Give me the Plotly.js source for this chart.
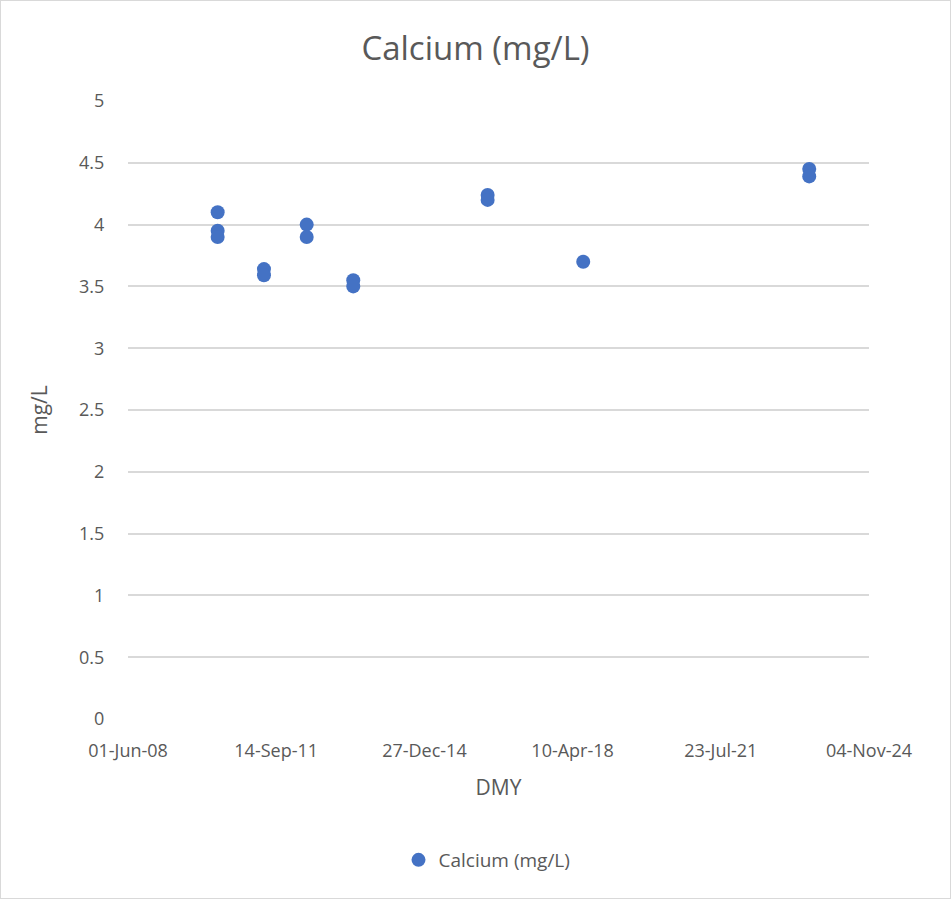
<!DOCTYPE html>
<html>
<head>
<meta charset="utf-8">
<script src="https://cdn.plot.ly/plotly-3.0.1.min.js"></script>
<style>
html,body{margin:0;padding:0;background:#fff;}
#wrap{position:relative;width:951px;height:899px;}
#chart{width:951px;height:899px;}
#frame{position:absolute;left:0;top:0;width:949px;height:897px;border:1px solid #d9d9d9;pointer-events:none;}
</style>
</head>
<body>
<div id="wrap"><div id="chart"></div><div id="frame"></div></div>
<script>
const dates = [
  "2010-05-28","2010-05-28","2010-05-28",
  "2011-06-07","2011-06-07",
  "2012-05-18","2012-05-18",
  "2013-05-30","2013-05-30",
  "2016-05-22","2016-05-22",
  "2018-07-05",
  "2023-07-09","2023-07-09"
];
const calcium = [4.1, 3.95, 3.9, 3.64, 3.59, 4.0, 3.9, 3.55, 3.5, 4.24, 4.2, 3.7, 4.45, 4.39];
const seriesName = "Calcium (mg/L)";
const chartTitle = "Calcium (mg/L)";
const xTitle = "DMY";
const yTitle = "mg/L";
const xStart = "2008-06-01";
const xEnd = "2024-11-04";
const yTicks = [0, 0.5, 1, 1.5, 2, 2.5, 3, 3.5, 4, 4.5, 5];

const fontFam = "Open Sans, Liberation Sans, sans-serif";
const grey = "#595959";

Plotly.newPlot("chart", [{
  type: "scatter",
  mode: "markers",
  x: dates,
  y: calcium,
  name: seriesName,
  marker: {color: "#4472C4", size: 14},
  showlegend: true
}], {
  width: 951, height: 899,
  margin: {l: 128, r: 82, t: 101, b: 180},
  paper_bgcolor: "#fff", plot_bgcolor: "#fff",
  font: {family: fontFam, color: grey},
  title: {text: chartTitle, font: {size: 33, color: grey, family: fontFam}, x: 0.5, xanchor: "center", y: 1 - 48/899, yanchor: "middle"},
  xaxis: {
    type: "date",
    range: [xStart, xEnd],
    tick0: xStart,
    dtick: 1200 * 86400000,
    tickformat: "%d-%b-%y",
    showgrid: false,
    zeroline: false,
    showline: false,
    ticks: "outside",
    ticklen: 15,
    tickcolor: "rgba(0,0,0,0)",
    tickfont: {size: 18, color: grey},
    title: {text: xTitle, font: {size: 21, color: grey}, standoff: 19}
  },
  yaxis: {
    range: [0, 5],
    tickvals: yTicks,
    ticktext: yTicks.map(String),
    showgrid: true,
    gridcolor: "#d9d9d9",
    gridwidth: 1.5,
    zeroline: false,
    showline: false,
    ticks: "outside",
    ticklen: 19,
    tickcolor: "rgba(0,0,0,0)",
    tickfont: {size: 18, color: grey},
    title: {text: yTitle, font: {size: 21, color: grey}, standoff: 25}
  },
  legend: {orientation: "h", x: (487 - 128)/741, xanchor: "center", y: -(860 - 719)/618, yanchor: "middle", itemwidth: 30, font: {size: 19, color: grey}},
  showlegend: true
}, {displayModeBar: false});
</script>
</body>
</html>
